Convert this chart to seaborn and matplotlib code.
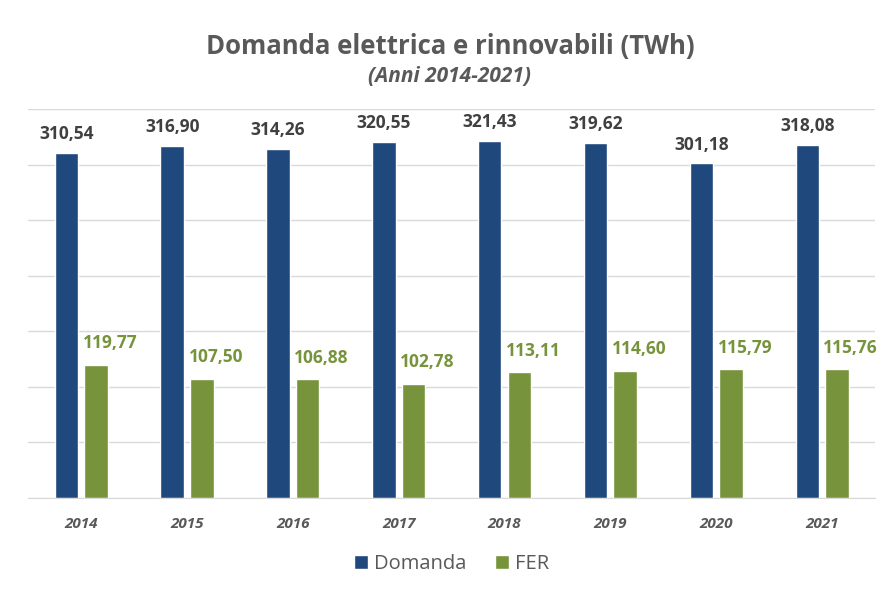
import pandas as pd
import matplotlib
matplotlib.use("Agg")
import matplotlib.pyplot as plt
import seaborn as sns

# data
anni = ["2014", "2015", "2016", "2017", "2018", "2019", "2020", "2021"]
domanda = [310.54, 316.90, 314.26, 320.55, 321.43, 319.62, 301.18, 318.08]
fer = [119.77, 107.50, 106.88, 102.78, 113.11, 114.60, 115.79, 115.76]
serie = ["Domanda", "FER"]

colori = {"Domanda": "#1F497D", "FER": "#77933C"}
col_testo = {"Domanda": "#404040", "FER": "#77933C"}
# label offsets (points): the green labels sit a bit to the right
spost = {"Domanda": (0, 7), "FER": (10, 9)}

df = pd.DataFrame({
    "Anno": anni * 2,
    "Serie": [serie[0]] * len(anni) + [serie[1]] * len(anni),
    "TWh": domanda + fer,
})

sns.set_style("white")
plt.rcParams["font.family"] = ["Open Sans", "DejaVu Sans"]

fig = plt.figure(figsize=(8.82, 5.9), dpi=100)
ax = fig.add_axes([0.032, 0.156, 0.96, 0.659])

sns.barplot(data=df, x="Anno", y="TWh", hue="Serie", palette=colori,
            width=0.56, gap=0.21, saturation=1, ax=ax, legend=True)

# value labels above each bar
for cont, nome in zip(ax.containers, serie):
    for rect in cont:
        h = rect.get_height()
        ax.annotate(f"{h:.2f}".replace(".", ","),
                    (rect.get_x() + rect.get_width() / 2, h),
                    xytext=spost[nome], textcoords="offset points",
                    ha="center", va="bottom", fontsize=12.5,
                    fontweight="bold", color=col_testo[nome])

ax.set_ylim(0, 350)
ax.set_yticks(range(0, 351, 50))
ax.yaxis.grid(True, color="#D9D9D9", linewidth=1)
ax.tick_params(axis="y", left=False, labelleft=False)
ax.tick_params(axis="x", bottom=False, pad=10)
for lab in ax.get_xticklabels():
    lab.set_fontstyle("italic")
    lab.set_fontweight("bold")
    lab.set_color("#595959")
    lab.set_fontsize(11)
ax.set_xlabel("")
ax.set_ylabel("")
for s in ["top", "right", "left"]:
    ax.spines[s].set_visible(False)
ax.spines["bottom"].set_color("#D9D9D9")

leg = ax.legend(loc="center", bbox_to_anchor=(0.5, -0.17), ncol=2,
                frameon=False, fontsize=14.5, handlelength=0.7,
                handleheight=0.7, handletextpad=0.3, columnspacing=1.4)
for t in leg.get_texts():
    t.set_color("#595959")

fig.text(0.51, 0.922, "Domanda elettrica e rinnovabili (TWh)",
         ha="center", va="center", fontsize=18.5, fontweight="bold",
         color="#595959")
fig.text(0.51, 0.87, "(Anni 2014-2021)", ha="center", va="center",
         fontsize=15, fontstyle="italic", fontweight="bold", color="#595959")

fig.savefig("out.png", dpi=100)
